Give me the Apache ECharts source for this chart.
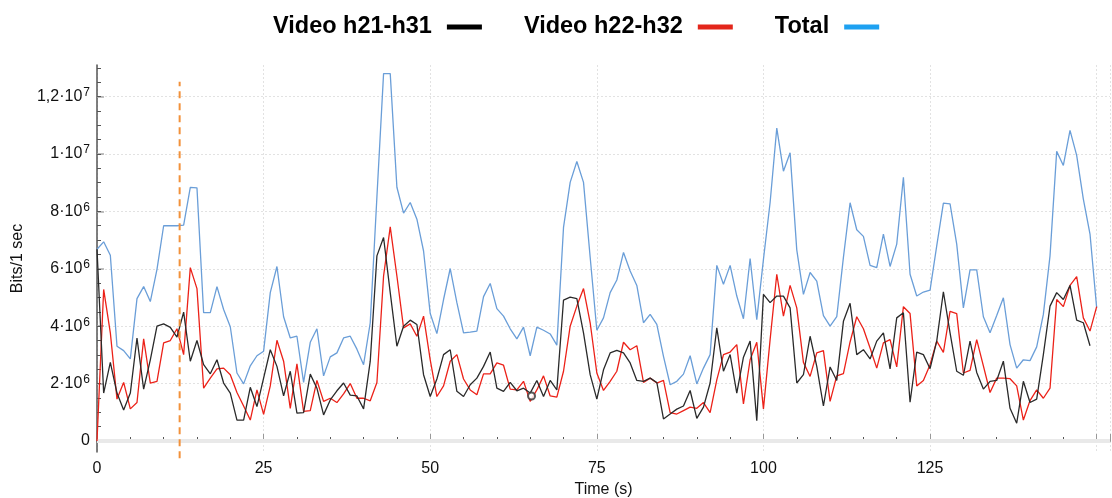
<!DOCTYPE html>
<html>
<head>
<meta charset="utf-8">
<script src="https://cdn.jsdelivr.net/npm/echarts@6/dist/echarts.min.js"></script>
<style>
html,body{margin:0;padding:0;background:#fff;}
#chart{width:1112px;height:498px;}
</style>
</head>
<body>
<div id="chart"></div>
<script>
// Values in Mbit (x 1e6 bits) per 1 second, time 0..150 s
const seriesNames = ['Video h21-h31', 'Video h22-h32', 'Total'];
const videoA = [6.68,1.67,2.74,1.67,1.08,1.67,3.59,1.81,2.83,4.0,4.08,3.96,3.62,4.49,2.78,3.50,2.66,2.34,2.83,2.02,
1.67,0.73,0.73,1.87,1.20,2.19,3.18,2.60,1.57,2.43,0.97,0.99,2.33,1.84,0.91,1.43,1.75,2.02,1.6,1.57,
1.12,2.78,6.45,7.09,5.17,3.30,4.0,4.21,4.06,2.31,1.55,2.16,3.01,3.18,1.73,1.55,1.96,2.19,2.60,3.10,
1.84,1.73,2.04,1.75,1.84,1.67,2.11,1.55,2.11,1.78,4.91,5.01,4.96,3.77,2.31,1.46,2.48,3.07,3.16,3.07,
2.72,2.11,2.08,2.19,2.04,0.77,0.94,1.11,1.22,1.76,0.79,1.18,2.02,3.94,2.43,3.01,1.67,2.92,3.48,0.71,
5.11,4.82,5.05,5.05,4.64,2.02,2.31,3.65,2.60,1.22,2.58,2.11,4.17,4.8,3.01,3.18,2.86,3.48,3.77,2.51,
4.29,4.47,1.35,3.10,3.01,2.52,3.48,5.20,3.77,2.43,2.29,3.48,2.39,1.81,2.08,2.11,2.78,1.14,0.62,2.08,
1.34,1.46,3.01,4.70,5.17,4.93,5.42,4.21,4.12,3.32];
const videoB = [0,5.28,3.77,1.46,2.04,1.12,1.34,3.56,2.02,2.08,3.42,3.50,3.91,3.01,6.04,5.31,1.84,2.19,2.51,2.54,
2.31,1.69,1.22,0.73,1.78,0.93,1.92,3.51,2.78,1.14,2.69,1.03,1.06,2.11,1.38,1.49,1.34,1.64,2.0,1.49,
1.49,1.40,2.04,5.75,7.46,5.75,3.94,4.08,3.65,4.35,2.83,1.55,1.92,2.78,3.01,2.16,1.78,1.61,2.34,2.34,
2.72,2.64,1.81,1.78,2.08,1.38,1.78,2.27,1.57,1.53,2.43,4.0,4.70,5.31,4.12,2.37,1.76,2.08,2.43,3.44,
3.18,3.32,2.04,2.19,2.02,2.11,0.99,0.94,1.06,1.18,1.14,1.34,0.99,2.13,3.01,3.10,3.36,1.29,2.83,3.44,
1.12,3.53,5.81,4.35,5.42,4.64,2.74,2.25,3.07,3.15,1.38,2.27,2.35,3.45,4.33,3.91,3.24,2.54,3.42,3.53,
2.58,4.68,4.44,1.92,2.11,2.66,3.48,3.09,4.52,4.44,2.37,2.46,3.53,2.62,1.69,2.19,2.19,2.17,1.92,0.73,
1.41,1.78,1.49,1.84,4.93,4.68,5.42,5.73,4.29,3.83,4.68];
const total = [6.68,6.94,6.47,3.30,3.15,2.86,4.96,5.38,4.86,5.98,7.50,7.50,7.50,7.52,8.84,8.82,4.47,4.47,5.38,4.58,
3.98,2.37,1.99,2.62,2.97,3.13,5.17,6.08,4.33,3.59,3.65,2.04,3.44,3.91,2.27,2.93,3.07,3.59,3.65,3.2,
2.66,4.12,8.5,12.8,12.8,8.84,7.94,8.31,7.73,6.62,4.44,3.74,4.93,6.01,4.82,3.77,3.79,3.83,5.03,5.49,
4.61,4.35,3.91,3.56,3.97,2.97,3.97,3.86,3.73,3.34,7.44,9.01,9.74,9.01,6.4,3.86,4.29,5.17,5.61,6.57,
5.92,5.42,4.12,4.41,4.06,2.95,1.96,2.08,2.33,2.97,1.99,2.54,3.01,6.12,5.46,6.12,5.05,4.26,6.36,4.23,
6.33,8.31,10.90,9.40,10.04,6.66,5.11,5.87,5.57,4.37,4.0,4.33,6.4,8.3,7.36,7.13,6.12,6.04,7.21,6.08,
6.86,9.19,5.81,5.05,5.19,5.26,6.80,8.29,8.26,6.86,4.64,5.96,5.96,4.33,3.77,4.37,4.99,3.36,2.54,2.83,
2.80,3.28,4.41,6.45,10.09,9.60,10.82,9.95,8.43,7.21,4.64];
const markerTime = [65.2];
const markerValue = [1.57];
const cursorTime = 12.4;
const cursorRange = [-0.6, 12.52];

const yMajorTicks = [0, 2e6, 4e6, 6e6, 8e6, 1e7, 1.2e7];
const yTickMantissa = ['0', '2·10', '4·10', '6·10', '8·10', '1·10', '1,2·10'];
const yTickExponent = ['', '6', '6', '6', '6', '7', '7'];
const yMinorTicks = [];
for (let v = 0; v <= 13e6; v += 5e5) yMinorTicks.push(v);
const xTickStep = 25;

const M = 1e6;
const toPairs = arr => arr.map((v, i) => [i, v * M]);

const chart = echarts.init(document.getElementById('chart'), null, {renderer: 'canvas'});
const font = 'Liberation Sans, Arial, Helvetica, sans-serif';

chart.setOption({
  animation: false,
  backgroundColor: '#fff',
  textStyle: {fontFamily: font},
  legend: {
    left: 268, top: 10,
    align: 'right',
    icon: 'rect',
    itemWidth: 35, itemHeight: 5,
    itemGap: 42,
    textStyle: {fontSize: 23.5, fontWeight: 'bold', color: '#000', fontFamily: font, padding: [0, 10, 0, 0]},
    data: [
      {name: seriesNames[0], itemStyle: {color: '#000000'}},
      {name: seriesNames[1], itemStyle: {color: '#e3261b'}},
      {name: seriesNames[2], itemStyle: {color: '#1ea1f1'}}
    ]
  },
  grid: {left: 97, right: 2, top: 65, bottom: 46, containLabel: false, outerBoundsMode: 'none'},
  xAxis: {
    type: 'value', min: 0, max: 152, interval: xTickStep,
    name: 'Time (s)', nameLocation: 'middle', nameGap: 29,
    nameTextStyle: {fontSize: 16, color: '#111', fontFamily: font},
    axisLine: {lineStyle: {color: '#555', width: 1.5}},
    axisTick: {inside: true, length: 7, lineStyle: {color: '#999'}},
    minorTick: {show: true, splitNumber: 5, length: 4, lineStyle: {color: '#555'}},
    axisLabel: {fontSize: 16, color: '#111', margin: 9, showMaxLabel: false,
      formatter: v => (v >= 150 ? '' : String(v))},
    splitLine: {show: true, lineStyle: {color: '#e2e2e2', type: [2, 2], width: 1}}
  },
  yAxis: [{
    type: 'value', min: -383000, max: 13100000,
    name: 'Bits/1 sec', nameLocation: 'middle', nameGap: 60, nameRotate: 90,
    nameTextStyle: {fontSize: 16, color: '#111', fontFamily: font, padding: [0, 0, 10, 0]},
    axisLine: {show: true, lineStyle: {color: '#555', width: 1.5}},
    axisTick: {show: true, inside: true, length: 7, customValues: yMajorTicks, lineStyle: {color: '#aaa', width: 1.5}},
    axisLabel: {fontSize: 16, color: '#111', margin: 7, customValues: yMajorTicks,
      formatter: v => {
        const i = yMajorTicks.indexOf(v);
        if (i < 0) return '';
        return yTickExponent[i] ? '{b|' + yTickMantissa[i] + '}{s|' + yTickExponent[i] + '}' : '{b|' + yTickMantissa[i] + '}';
      },
      rich: {
        b: {fontSize: 16, color: '#111', fontFamily: font},
        s: {fontSize: 12, color: '#111', fontFamily: font, padding: [0, 0, 8, 1]}
      }
    },
    splitLine: {show: true, lineStyle: {color: '#e2e2e2', type: [2, 2], width: 1}}
  }, {
    type: 'value', min: -383000, max: 13100000, position: 'left',
    axisLine: {show: false},
    axisTick: {show: true, inside: true, length: 4, customValues: yMinorTicks, lineStyle: {color: '#555'}},
    axisLabel: {show: false},
    splitLine: {show: false}
  }],
  series: [
    {
      name: seriesNames[0], type: 'line', data: toPairs(videoA), showSymbol: false, symbol: 'none',
      lineStyle: {color: '#2a2a2a', width: 1.3}, itemStyle: {color: '#000'}, z: 4,
      markLine: {
        silent: true, symbol: 'none', label: {show: false}, animation: false,
        lineStyle: {color: '#e9e9e9', width: 4, type: 'solid'},
        data: [{yAxis: 0}], z: 1
      }
    },
    {
      name: seriesNames[1], type: 'line', data: toPairs(videoB), showSymbol: false, symbol: 'none',
      lineStyle: {color: '#ec2118', width: 1.3}, itemStyle: {color: '#e3261b'}, z: 3
    },
    {
      name: seriesNames[2], type: 'line', data: toPairs(total), showSymbol: false, symbol: 'none',
      lineStyle: {color: '#6a9ed8', width: 1.3}, itemStyle: {color: '#1ea1f1'}, z: 2
    },
    {
      name: 'cursor', type: 'line', clip: false, symbol: 'none', silent: true,
      data: cursorRange.map(v => [cursorTime, v * M]),
      lineStyle: {color: '#f2913a', width: 2, type: [7, 5]}, z: 5
    },
    {
      name: 'marker', type: 'scatter', symbol: 'emptyCircle', symbolSize: 7, silent: true,
      data: markerTime.map((t, i) => [t, markerValue[i] * M]),
      itemStyle: {color: '#333', borderColor: '#333', borderWidth: 1.3}, z: 6
    }
  ]
});
</script>
</body>
</html>
